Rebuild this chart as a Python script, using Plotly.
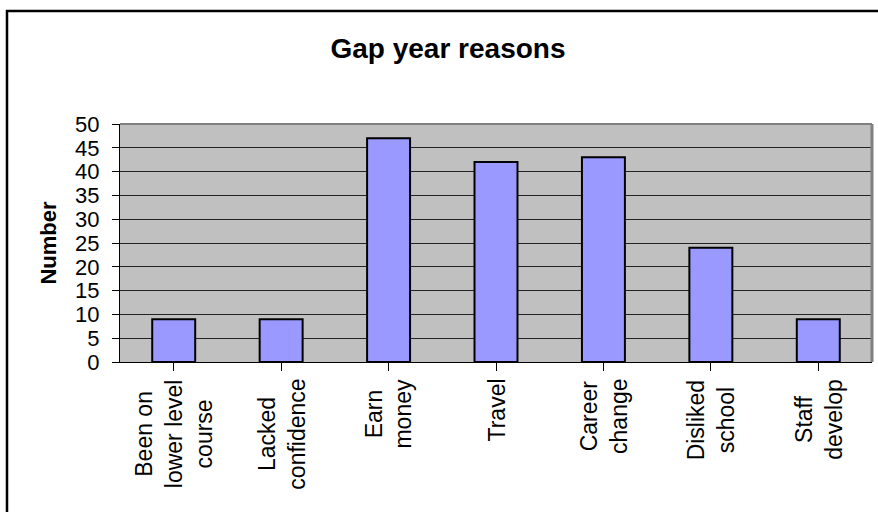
import plotly.graph_objects as go

# Survey results: reasons given for taking a gap year
categories = [
    "Been on<br>lower level<br>course",
    "Lacked<br>confidence",
    "Earn<br>money",
    "Travel",
    "Career<br>change",
    "Disliked<br>school",
    "Staff<br>develop",
]
counts = [9, 9, 47, 42, 43, 24, 9]
y_ticks = [0, 5, 10, 15, 20, 25, 30, 35, 40, 45, 50]

FONT = "Liberation Sans, Arial, sans-serif"
W, H = 878, 512
L, R, T, B = 120, 6, 124, 150

fig = go.Figure()
fig.add_trace(go.Bar(
    x=list(range(len(categories))),
    y=counts,
    marker=dict(color="#9999FF", line=dict(color="#000000", width=2)),
    hoverinfo="x+y",
))

# category labels, centered multi-line and turned on their side
for i, label in enumerate(categories):
    fig.add_annotation(
        x=i, xref="x", y=0, yref="paper", yshift=-15,
        text=label, textangle=-90, showarrow=False,
        xanchor="center", yanchor="top", align="center",
        font=dict(family=FONT, size=23, color="#000000"),
    )

pw, ph = W - L - R, H - T - B
# outer chart frame (left and top edges within view)
fig.add_shape(
    type="rect", xref="paper", yref="paper",
    x0=(7 - L) / pw, x1=(W + 10 - L) / pw,
    y0=(H - B - (H + 10)) / ph, y1=(H - B - 11) / ph,
    line=dict(color="#000000", width=2.5), layer="above",
)
# plot area edges on top and right
fig.add_shape(type="line", xref="paper", yref="paper", x0=0, x1=1, y0=1, y1=1,
              line=dict(color="#808080", width=2), layer="above")
fig.add_shape(type="line", xref="paper", yref="paper", x0=1, x1=1, y0=0, y1=1,
              line=dict(color="#808080", width=3), layer="above")

fig.update_layout(
    width=W, height=H,
    margin=dict(l=L, r=R, t=T, b=B, pad=0),
    paper_bgcolor="#FFFFFF",
    plot_bgcolor="#C0C0C0",
    bargap=0.6,
    showlegend=False,
    font=dict(family=FONT, color="#000000"),
    title=dict(
        text="<b>Gap year reasons</b>",
        xref="paper", x=(448 - L) / pw, xanchor="center",
        yref="container", y=1 - 48 / H, yanchor="middle",
        font=dict(family=FONT, size=28, color="#000000"),
    ),
    xaxis=dict(
        range=[-0.5, len(categories) - 0.5],
        tickmode="array", tickvals=list(range(len(categories))),
        showticklabels=False, tickson="boundaries",
        ticks="outside", ticklen=8, tickcolor="#000000", tickwidth=1,
        showline=True, linecolor="#000000", linewidth=1,
        showgrid=False, zeroline=False, fixedrange=True,
    ),
    yaxis=dict(
        range=[0, 50], tickmode="array", tickvals=y_ticks,
        ticks="outside", ticklen=7, tickcolor="#000000", tickwidth=1,
        ticklabelstandoff=8,
        tickfont=dict(family=FONT, size=22, color="#000000"),
        showline=True, linecolor="#000000", linewidth=1,
        showgrid=True, gridcolor="#222222", gridwidth=1,
        zeroline=False, fixedrange=True,
        title=dict(text="<b>Number</b>", standoff=12,
                   font=dict(family=FONT, size=22, color="#000000")),
    ),
)

fig.write_html("out.html")
